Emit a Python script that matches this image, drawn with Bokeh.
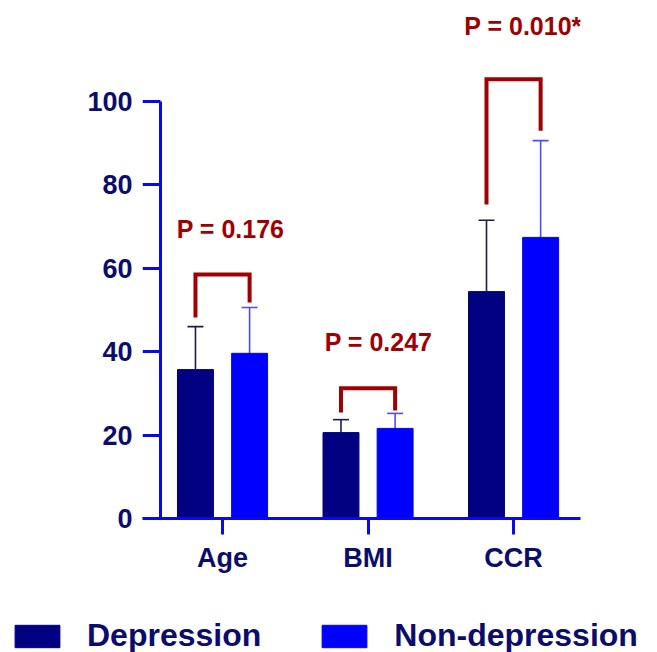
from bokeh.plotting import figure
from bokeh.layouts import column
from bokeh.models import (ColumnDataSource, Range1d, FixedTicker, Whisker, TeeHead,
                          Legend, LegendItem, LinearAxis)
from bokeh.transform import dodge
from bokeh.core.properties import value
from bokeh.embed import file_html
from bokeh.resources import INLINE

# ---------------- data ----------------
categories = ["Age", "BMI", "CCR"]
cat_pos = [1, 2, 3]
series_names = ["Depression", "Non-depression"]
dep_mean = [35.7, 20.6, 54.4]
dep_sd = [10.3, 3.1, 17.1]
nondep_mean = [39.6, 21.6, 67.4]
nondep_sd = [11.0, 3.6, 23.2]

# significance brackets
p_texts = ["P = 0.176", "P = 0.247", "P = 0.010*"]
bracket_top = [58.5, 31.2, 105.3]
bracket_left_bottom = [48.2, 25.4, 75.3]
bracket_right_bottom = [51.8, 25.9, 93.0]
p_label_x = [1.055, 2.072, 3.065]
p_label_y = [69.5, 42.4, 118.2]

y_ticks = [0, 20, 40, 60, 80, 100]

# ---------------- styling ----------------
FONT = "Liberation Sans"
DEP_COLOR = "#000080"
NONDEP_COLOR = "#0000FF"
AXIS_COLOR = "#0a0ae6"
LABEL_COLOR = "#0c0c6e"
RED = "#a00000"
OFFSET = 0.186
BAR_W = 0.247

src = ColumnDataSource(dict(
    x=cat_pos,
    dep=dep_mean,
    dep_up=[m + s for m, s in zip(dep_mean, dep_sd)],
    nondep=nondep_mean,
    nondep_up=[m + s for m, s in zip(nondep_mean, nondep_sd)],
))

p = figure(frame_width=438, frame_height=518,
           min_border_left=142, min_border_right=77,
           min_border_top=0, min_border_bottom=72,
           x_range=Range1d(0.45, 3.46), y_range=Range1d(0, 124.2),
           output_backend="svg", toolbar_location=None)
p.frame_align = False
p.outline_line_color = None
p.xgrid.visible = False
p.ygrid.visible = False
p.background_fill_color = "white"
p.border_fill_color = "white"

p.vbar(x=dodge("x", -OFFSET), top="dep", bottom=0, width=BAR_W, source=src,
       fill_color=DEP_COLOR, line_color=DEP_COLOR)
p.vbar(x=dodge("x", OFFSET), top="nondep", bottom=0, width=BAR_W, source=src,
       fill_color=NONDEP_COLOR, line_color=NONDEP_COLOR)

for base_off, low, up, col in [(-OFFSET, "dep", "dep_up", "#1b1b50"),
                               (OFFSET, "nondep", "nondep_up", "#4d4dff")]:
    w = Whisker(base=dodge("x", base_off), lower=low, upper=up, source=src,
                line_color=col, line_width=1.6, lower_head=None,
                upper_head=TeeHead(size=16, line_color=col, line_width=1.6))
    p.add_layout(w)

# brackets
bxs, bys = [], []
for c, t, lb, rb in zip(cat_pos, bracket_top, bracket_left_bottom, bracket_right_bottom):
    bxs.append([c - OFFSET, c - OFFSET, c + OFFSET, c + OFFSET])
    bys.append([lb, t, t, rb])
p.multi_line(xs=bxs, ys=bys, line_color=RED, line_width=4, line_join="miter")

p.text(x=p_label_x, y=p_label_y, text=p_texts, text_font=value(FONT),
       text_font_style="bold", text_font_size="25px", text_color=RED,
       text_align="center", text_baseline="middle")

# x axis
xa = p.xaxis[0]
xa.ticker = FixedTicker(ticks=cat_pos)
xa.major_label_overrides = {c: n for c, n in zip(cat_pos, categories)}
xa.axis_line_color = AXIS_COLOR
xa.axis_line_width = 3
xa.major_tick_line_color = AXIS_COLOR
xa.major_tick_line_width = 3
xa.major_tick_out = 16
xa.major_tick_in = 0
xa.minor_tick_line_color = None
xa.major_label_text_font = FONT
xa.major_label_text_font_style = "bold"
xa.major_label_text_font_size = "27px"
xa.major_label_text_color = LABEL_COLOR
xa.major_label_standoff = 8

# y axis labels (at frame edge, no line)
ya = p.yaxis[0]
ya.ticker = FixedTicker(ticks=y_ticks)
ya.axis_line_color = None
ya.major_tick_line_color = None
ya.minor_tick_line_color = None
ya.major_tick_out = 0
ya.major_tick_in = 0
ya.major_label_text_font = FONT
ya.major_label_text_font_style = "bold"
ya.major_label_text_font_size = "27px"
ya.major_label_text_color = LABEL_COLOR
ya.major_label_standoff = 10

# y axis line + ticks, set in from the frame edge
yline = LinearAxis(ticker=FixedTicker(ticks=y_ticks), bounds=(0, 100),
                   fixed_location=0.574,
                   axis_line_color=AXIS_COLOR, axis_line_width=3,
                   major_tick_line_color=AXIS_COLOR, major_tick_line_width=3,
                   major_tick_out=18, major_tick_in=0,
                   minor_tick_line_color=None,
                   major_label_text_alpha=0, major_label_text_font_size="10px")
p.add_layout(yline, "left")

# ---------------- legend strip ----------------
lf = figure(width=657, height=62, x_range=Range1d(0, 1), y_range=Range1d(0, 1),
            x_axis_location=None, y_axis_location=None,
            min_border=0, min_border_left=0, min_border_right=0,
            min_border_top=0, min_border_bottom=0,
            output_backend="svg", toolbar_location=None)
lf.frame_align = False
lf.outline_line_color = None
lf.xgrid.visible = False
lf.ygrid.visible = False
lf.background_fill_color = "white"
lf.border_fill_color = "white"
# swatch renderers (same data, not drawn; they only give the legend its keys)
sw_dep = lf.vbar(x="x", top="dep", width=BAR_W, source=src,
                 fill_color=DEP_COLOR, line_color=DEP_COLOR, visible=False)
sw_non = lf.vbar(x="x", top="nondep", width=BAR_W, source=src,
                 fill_color=NONDEP_COLOR, line_color=NONDEP_COLOR, visible=False)

legend = Legend(items=[LegendItem(label=series_names[0], renderers=[sw_dep]),
                       LegendItem(label=series_names[1], renderers=[sw_non])],
                orientation="horizontal", location=(9, -2),
                glyph_width=56, glyph_height=28, label_standoff=22, spacing=55,
                padding=0, margin=0, border_line_color=None,
                background_fill_alpha=0, inactive_fill_alpha=0,
                label_text_font=FONT, label_text_font_style="bold",
                label_text_font_size="32px", label_text_color=LABEL_COLOR)
lf.add_layout(legend, "center")

layout = column(p, lf, spacing=0)
open("out.html", "w").write(file_html(layout, INLINE))
